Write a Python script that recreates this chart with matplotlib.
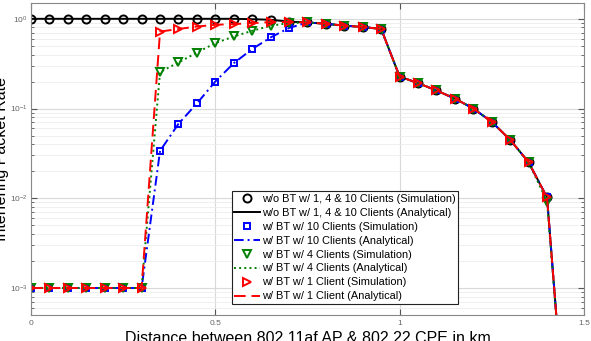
import numpy as np
import matplotlib
matplotlib.use("Agg")
import matplotlib.pyplot as plt
from matplotlib.ticker import LogLocator, NullFormatter, FixedLocator

plt.rcParams['font.family'] = ['Liberation Sans', 'DejaVu Sans']

x = [0.00, 0.05, 0.10, 0.15, 0.20, 0.25, 0.30, 0.35, 0.40, 0.45, 0.50, 0.55,
     0.60, 0.65, 0.70, 0.75, 0.80, 0.85, 0.90, 0.95, 1.00, 1.05, 1.10, 1.15,
     1.20, 1.25, 1.30, 1.35, 1.40, 1.45]

tail = [0.91, 0.88, 0.84, 0.81, 0.77, 0.227, 0.192, 0.159, 0.129, 0.100,
        0.071, 0.0448, 0.0252, 0.0102, 2.5e-5]

no_bt = [1.0, 1.0, 1.0, 1.0, 1.0, 1.0, 1.0, 1.0, 1.0, 1.0, 1.0, 1.0,
         0.99, 0.975, 0.93] + tail
bt10 = [1e-3, 1e-3, 1e-3, 1e-3, 1e-3, 1e-3, 1e-3, 0.0337, 0.0675, 0.114,
        0.20, 0.32, 0.46, 0.62, 0.79] + tail
bt4 = [1e-3, 1e-3, 1e-3, 1e-3, 1e-3, 1e-3, 1e-3, 0.255, 0.326, 0.42,
       0.536, 0.635, 0.735, 0.836, 0.895] + tail[:13] + [0.0092, 2.5e-5]
bt1 = [1e-3, 1e-3, 1e-3, 1e-3, 1e-3, 1e-3, 1e-3, 0.72, 0.77, 0.82,
       0.857, 0.873, 0.895, 0.918, 0.92] + tail

labels = ["w/o BT w/ 1, 4 & 10 Clients (Simulation)",
          "w/o BT w/ 1, 4 & 10 Clients (Analytical)",
          "w/ BT w/ 10 Clients (Simulation)",
          "w/ BT w/ 10 Clients (Analytical)",
          "w/ BT w/ 4 Clients (Simulation)",
          "w/ BT w/ 4 Clients (Analytical)",
          "w/ BT w/ 1 Client (Simulation)",
          "w/ BT w/ 1 Client (Analytical)"]

fig = plt.figure(figsize=(5.91, 3.41), dpi=100)
ax = fig.add_axes([0.0525, 0.0762, 0.9355, 0.9150])

gray = '#555555'
ax.set_yscale('log')
ax.set_xlim(0, 1.5)
ax.set_ylim(5e-4, 1.5)

series = [
    (no_bt, 'k', 'o', '-', 5.8, labels[0], labels[1]),
    (bt10, '#0000ff', 's', (0, (5, 2, 1, 2)), 4.2, labels[2], labels[3]),
    (bt4, '#008000', 'v', ':', 6.2, labels[4], labels[5]),
    (bt1, '#ff0000', '>', (0, (6, 3)), 6.2, labels[6], labels[7]),
]
handles = []
for ys, c, m, ls, ms, lsim, lana in series:
    hs, = ax.plot(x, ys, linestyle='none', marker=m, markersize=ms,
                  markerfacecolor='none', markeredgecolor=c,
                  markeredgewidth=1.4, label=lsim)
    ha, = ax.plot(x, ys, linestyle=ls, color=c, linewidth=1.4, label=lana)
    handles += [hs, ha]

ax.xaxis.set_major_locator(FixedLocator([0, 0.5, 1, 1.5]))
ax.set_xticklabels(['0', '0.5', '1', '1.5'])
ax.yaxis.set_major_locator(LogLocator(base=10, numticks=10))
ax.yaxis.set_minor_locator(LogLocator(base=10, subs=np.arange(2, 10), numticks=20))
ax.yaxis.set_minor_formatter(NullFormatter())

ax.grid(True, which='major', color='#d9d9d9', linewidth=0.8)
ax.grid(True, which='minor', axis='y', color='#ececec', linewidth=0.6)
ax.set_axisbelow(True)

ax.tick_params(which='both', direction='in', top=True, right=True,
               colors=gray, labelsize=6, labelcolor='#666666')
ax.tick_params(axis='y', pad=2.5)
ax.tick_params(which='major', length=4)
ax.tick_params(which='minor', length=2.5)
for s in ax.spines.values():
    s.set_color('#888888')
    s.set_linewidth(0.8)

ax.set_xlabel("Distance between 802.11af AP & 802.22 CPE in km",
              fontsize=11.5, labelpad=3)
ax.set_ylabel("Interfering Packet Rate", fontsize=11.5)
ax.yaxis.set_label_coords(-0.040, 0.5)

leg = ax.legend(handles=handles, loc='lower left',
                bbox_to_anchor=(0.363, 0.035), fontsize=7.9,
                frameon=True, fancybox=False, framealpha=1,
                edgecolor='#222222', handlelength=2.3, handletextpad=0.2,
                borderpad=0.25, labelspacing=0.36, borderaxespad=0)
leg.get_frame().set_linewidth(0.8)

fig.savefig("out.png", dpi=100)
